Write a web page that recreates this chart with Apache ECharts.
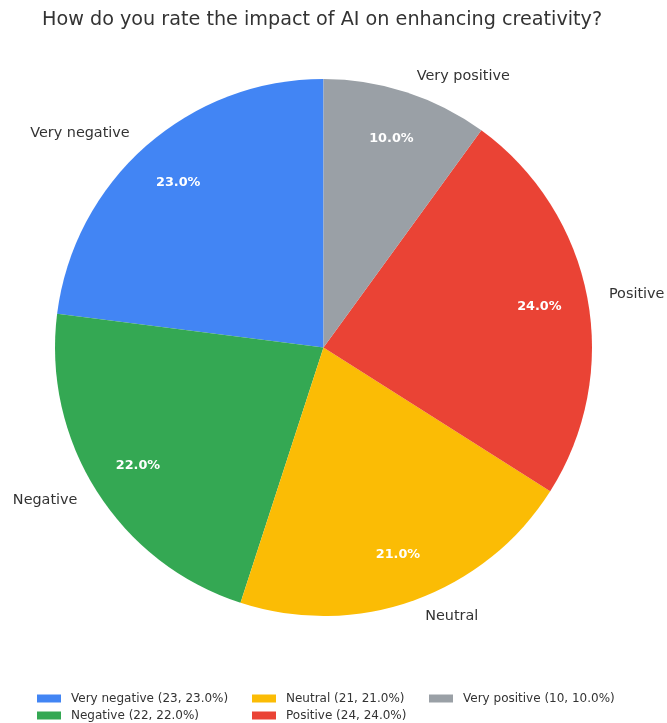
<!DOCTYPE html>
<html>
<head>
<meta charset="utf-8">
<script src="https://cdn.jsdelivr.net/npm/echarts@6/dist/echarts.min.js"></script>
<style>
  html, body { margin: 0; padding: 0; background: #ffffff; }
  #chart { width: 667px; height: 723px; }
</style>
</head>
<body>
<div id="chart"></div>
<script>
// Survey answers and their counts
const categories = ['Very negative', 'Negative', 'Neutral', 'Positive', 'Very positive'];
const counts = [23, 22, 21, 24, 10];
const colors = ['#4285F4', '#34A853', '#FBBC05', '#EA4335', '#9AA0A6'];

const total = counts.reduce((a, b) => a + b, 0);
const pct = v => (v / total * 100).toFixed(1);
const FONT = 'DejaVu Sans';

const pieData = categories.map((name, i) => ({
  name: name,
  value: counts[i],
  itemStyle: { color: colors[i] }
}));

const legendLabel = name => {
  const i = categories.indexOf(name);
  return name + ' (' + counts[i] + ', ' + pct(counts[i]) + '%)';
};

// Three legend columns, filled top to bottom
const legendColumns = [
  { names: ['Very negative', 'Negative'], left: 37 },
  { names: ['Neutral', 'Positive'], left: 252 },
  { names: ['Very positive'], left: 429 }
];

const legends = legendColumns.map(col => ({
  data: col.names,
  orient: 'vertical',
  left: col.left,
  top: 691.5,
  icon: 'rect',
  itemWidth: 24,
  itemHeight: 8,
  itemGap: 3,
  padding: 0,
  formatter: legendLabel,
  textStyle: {
    fontFamily: FONT,
    fontSize: 12,
    color: '#333333',
    lineHeight: 14,
    padding: [0, 0, 0, 5]
  }
}));

const chart = echarts.init(document.getElementById('chart'), null, { renderer: 'canvas' });

chart.setOption({
  animation: false,
  backgroundColor: '#ffffff',
  title: {
    text: 'How do you rate the impact of AI on enhancing creativity?',
    left: 37,
    top: 6,
    textStyle: {
      fontFamily: FONT,
      fontSize: 19.2,
      fontWeight: 'normal',
      color: '#333333'
    }
  },
  legend: legends,
  series: [
    {
      name: 'Rating',
      type: 'pie',
      center: [323.5, 347.5],
      radius: [0, 268.5],
      startAngle: 90,
      clockwise: false,
      avoidLabelOverlap: false,
      data: pieData,
      itemStyle: { borderWidth: 0 },
      label: {
        show: true,
        position: 'outside',
        formatter: '{b}',
        fontFamily: FONT,
        fontSize: 14.4,
        color: '#333333'
      },
      labelLine: { show: false, length: 17, length2: 0 },
      emphasis: { disabled: true }
    },
    {
      name: 'Share',
      type: 'pie',
      center: [323.5, 347.5],
      radius: [165, 268.5],
      startAngle: 90,
      clockwise: false,
      avoidLabelOverlap: false,
      silent: true,
      data: pieData.map(d => ({ name: d.name, value: d.value, itemStyle: { color: 'rgba(0,0,0,0)' } })),
      label: {
        show: true,
        position: 'inside',
        formatter: p => pct(p.value) + '%',
        fontFamily: FONT,
        fontSize: 12.8,
        fontWeight: 'bold',
        color: '#ffffff'
      },
      labelLine: { show: false },
      emphasis: { disabled: true }
    }
  ]
});
</script>
</body>
</html>
